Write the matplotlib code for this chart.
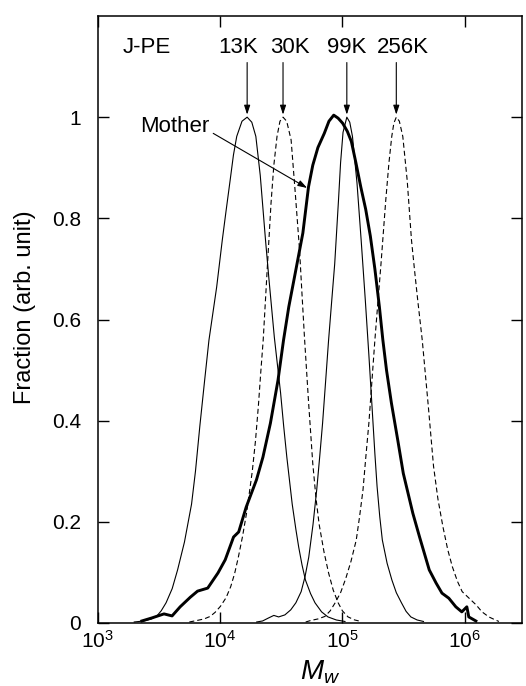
import numpy as np
import matplotlib
matplotlib.use("Agg")
import matplotlib.pyplot as plt

plt.rcParams['font.family'] = ['Liberation Sans', 'DejaVu Sans']
plt.rcParams['mathtext.fontset'] = 'custom'
plt.rcParams['mathtext.rm'] = 'Liberation Sans'
plt.rcParams['mathtext.it'] = 'Liberation Sans:italic'
plt.rcParams['mathtext.default'] = 'regular'
plt.rcParams['lines.scale_dashes'] = False

# Fractionated samples: log10(Mw) and normalised fraction
k13_logm = [3.300, 3.378, 3.440, 3.485, 3.520, 3.560, 3.610, 3.654, 3.710, 3.768,
            3.800, 3.836, 3.875, 3.910, 3.973, 4.019, 4.050, 4.083, 4.110, 4.137,
            4.180, 4.222, 4.260, 4.293, 4.329, 4.372, 4.400, 4.444, 4.495, 4.520,
            4.546, 4.590, 4.620, 4.643, 4.670, 4.698, 4.740, 4.776, 4.830, 4.882,
            4.950, 5.021]
k13_frac = [0.002, 0.004, 0.008, 0.014, 0.024, 0.040, 0.068, 0.105, 0.160, 0.235,
            0.300, 0.390, 0.480, 0.559, 0.664, 0.757, 0.815, 0.875, 0.925, 0.962,
            0.992, 1.000, 0.990, 0.962, 0.885, 0.757, 0.680, 0.565, 0.455, 0.390,
            0.328, 0.235, 0.185, 0.150, 0.115, 0.085, 0.058, 0.040, 0.022, 0.012,
            0.006, 0.003]

k30_logm = [3.750, 3.813, 3.870, 3.920, 3.960, 4.004, 4.050, 4.088, 4.120, 4.150,
            4.185, 4.219, 4.264, 4.290, 4.314, 4.333, 4.353, 4.386, 4.417, 4.440,
            4.466, 4.490, 4.515, 4.545, 4.581, 4.615, 4.650, 4.670, 4.690, 4.724,
            4.758, 4.785, 4.810, 4.850, 4.887, 4.925, 4.965, 5.000, 5.046, 5.100,
            5.153]
k30_frac = [0.002, 0.005, 0.008, 0.013, 0.021, 0.033, 0.050, 0.072, 0.098, 0.130,
            0.172, 0.220, 0.300, 0.360, 0.430, 0.495, 0.559, 0.700, 0.830, 0.905,
            0.962, 0.992, 1.000, 0.992, 0.955, 0.850, 0.737, 0.650, 0.565, 0.435,
            0.315, 0.245, 0.195, 0.140, 0.099, 0.065, 0.040, 0.024, 0.012, 0.006,
            0.003]

k99_logm = [4.300, 4.348, 4.397, 4.440, 4.479, 4.530, 4.578, 4.620, 4.663, 4.695,
            4.725, 4.760, 4.790, 4.815, 4.838, 4.862, 4.887, 4.912, 4.937, 4.968,
            4.985, 5.005, 5.036, 5.060, 5.082, 5.119, 5.153, 5.187, 5.216, 5.245,
            5.265, 5.283, 5.305, 5.326, 5.365, 5.404, 5.440, 5.482, 5.520, 5.559,
            5.610, 5.662]
k99_frac = [0.002, 0.004, 0.010, 0.015, 0.012, 0.016, 0.026, 0.040, 0.062, 0.092,
            0.130, 0.195, 0.263, 0.330, 0.395, 0.475, 0.559, 0.635, 0.710, 0.836,
            0.910, 0.970, 1.000, 0.990, 0.962, 0.870, 0.757, 0.638, 0.530, 0.415,
            0.335, 0.270, 0.210, 0.164, 0.118, 0.085, 0.060, 0.040, 0.023, 0.012,
            0.006, 0.003]

k256_logm = [4.700, 4.742, 4.800, 4.857, 4.900, 4.941, 4.985, 5.026, 5.070, 5.113,
             5.140, 5.168, 5.190, 5.216, 5.240, 5.265, 5.290, 5.315, 5.354, 5.380,
             5.403, 5.420, 5.440, 5.465, 5.493, 5.529, 5.564, 5.590, 5.615, 5.652,
             5.680, 5.702, 5.744, 5.780, 5.821, 5.860, 5.898, 5.940, 5.978, 6.030,
             6.091, 6.140, 6.196, 6.240, 6.278]
k256_frac = [0.002, 0.005, 0.008, 0.013, 0.024, 0.040, 0.060, 0.087, 0.122, 0.164,
             0.210, 0.263, 0.325, 0.395, 0.475, 0.559, 0.635, 0.710, 0.836, 0.910,
             0.962, 0.988, 1.000, 0.992, 0.962, 0.875, 0.757, 0.695, 0.638, 0.559,
             0.485, 0.427, 0.310, 0.245, 0.190, 0.145, 0.111, 0.082, 0.062, 0.050,
             0.036, 0.022, 0.012, 0.007, 0.003]

# Unfractionated (mother) polymer
mother_logm = [3.362, 3.444, 3.543, 3.609, 3.675, 3.758, 3.817, 3.900, 3.984, 4.043,
               4.111, 4.153, 4.214, 4.298, 4.351, 4.412, 4.474, 4.519, 4.562, 4.615,
               4.677, 4.723, 4.758, 4.800, 4.852, 4.890, 4.929, 4.965, 5.002, 5.040,
               5.073, 5.110, 5.150, 5.190, 5.228, 5.265, 5.302, 5.330, 5.360, 5.400,
               5.453, 5.497, 5.575, 5.630, 5.709, 5.765, 5.813, 5.869, 5.926, 5.975,
               6.016, 6.032, 6.090]
mother_frac = [0.004, 0.010, 0.018, 0.014, 0.032, 0.051, 0.063, 0.069, 0.099, 0.125,
               0.170, 0.180, 0.229, 0.283, 0.328, 0.395, 0.480, 0.559, 0.625, 0.692,
               0.771, 0.862, 0.905, 0.940, 0.968, 0.992, 1.004, 0.998, 0.988, 0.972,
               0.952, 0.910, 0.862, 0.818, 0.765, 0.700, 0.625, 0.560, 0.500, 0.435,
               0.360, 0.296, 0.217, 0.170, 0.105, 0.079, 0.059, 0.049, 0.032, 0.022,
               0.032, 0.012, 0.004]

peak_labels = ["13K", "30K", "99K", "256K"]
peak_label_logm = [4.147, 4.572, 5.037, 5.494]
peak_arrow_logm = [4.222, 4.515, 5.036, 5.440]

fig = plt.figure(figsize=(5.26, 6.86), dpi=100)
ax = fig.add_axes([97.5 / 526, 63 / 686, 424 / 526, 607 / 686])

thin = dict(color='black', lw=0.8)
dash = dict(color='black', lw=0.8, dashes=(3.6, 2.2))

ax.plot(10 ** np.array(k13_logm), k13_frac, **thin)
ax.plot(10 ** np.array(k30_logm), k30_frac, **dash)
ax.plot(10 ** np.array(k99_logm), k99_frac, **thin)
ax.plot(10 ** np.array(k256_logm), k256_frac, **dash)
ax.plot(10 ** np.array(mother_logm), mother_frac, color='black', lw=2.1,
        solid_joinstyle='round')

ax.set_xscale('log')
ax.set_xlim(1e3, 2.9e6)
ax.set_ylim(0, 1.2)
ax.set_yticks([0, 0.2, 0.4, 0.6, 0.8, 1.0])
ax.set_yticklabels(["0", "0.2", "0.4", "0.6", "0.8", "1"])
ax.set_xticks([1e3, 1e4, 1e5, 1e6])
ax.minorticks_off()
ax.tick_params(axis='both', which='major', direction='in', length=8, width=1.0,
               labelsize=15, top=True, right=True)
ax.tick_params(axis='y', pad=12)
ax.tick_params(axis='x', pad=5)
for sp in ax.spines.values():
    sp.set_linewidth(1.1)

# Sample labels with arrows to peak maxima
arrow_kw = dict(arrowstyle='-|>,head_length=0.55,head_width=0.18', color='black',
                lw=0.8, shrinkA=0, shrinkB=0)
for lab, lx, ax_x in zip(peak_labels, peak_label_logm, peak_arrow_logm):
    ax.text(10 ** lx, 1.138, lab, ha='center', va='center', fontsize=16)
    ax.annotate('', xy=(10 ** ax_x, 1.005), xytext=(10 ** ax_x, 1.108),
                arrowprops=arrow_kw)

ax.text(10 ** 3.205, 1.138, "J-PE", ha='left', va='center', fontsize=16)

ax.text(10 ** 3.915, 0.981, "Mother", ha='right', va='center', fontsize=16)
ax.annotate('', xy=(10 ** 4.712, 0.860), xytext=(10 ** 3.945, 0.968),
            arrowprops=arrow_kw)

fig.text(25 / 526, 1 - 307 / 686, "Fraction (arb. unit)", rotation=90,
         ha='center', va='center', fontsize=17)
fig.text(320 / 526, 1 - 679 / 686, r"$\mathit{M_w}$", ha='center', va='baseline',
         fontsize=20)

fig.savefig("out.png", dpi=100)
